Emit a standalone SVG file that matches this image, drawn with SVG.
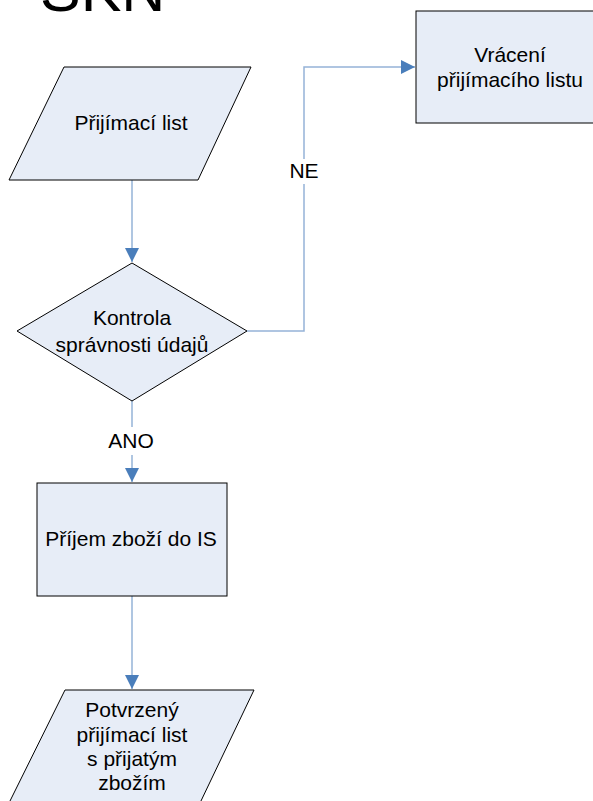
<svg xmlns="http://www.w3.org/2000/svg" width="593" height="801" viewBox="0 0 593 801">
  <style>
    .shape { fill: #e7edf7; stroke: #000000; stroke-width: 1; }
    .label { font-family: "Liberation Sans", Arial, sans-serif; font-size: 21px; fill: #000000; text-anchor: middle; }
    .title { font-family: "Liberation Sans", Arial, sans-serif; font-size: 61px; fill: #000000; }
    .flow { fill: none; stroke: #95b3d7; stroke-width: 1.5; }
    .tag { fill: #ffffff; }
  </style>
  <defs>
    <marker id="arrow" markerWidth="14" markerHeight="14" refX="14" refY="7" orient="auto" markerUnits="userSpaceOnUse">
      <path d="M0,0 L14,7 L0,14 Z" fill="#4a7ebb"/>
    </marker>
  </defs>

  <rect width="593" height="801" fill="#ffffff"/>

  <!-- heading, mostly above the top edge -->
  <text class="title" x="40" y="11">SKN</text>

  <!-- connectors -->
  <g id="connectors">
    <path class="flow" d="M132,180 L132,262" marker-end="url(#arrow)"/>
    <path class="flow" d="M247,331 L304,331 L304,67 L415,67" marker-end="url(#arrow)"/>
    <path class="flow" d="M132,401 L132,482" marker-end="url(#arrow)"/>
    <path class="flow" d="M132,596 L132,689" marker-end="url(#arrow)"/>
    <rect class="tag" x="287" y="159" width="34" height="25"/>
    <text class="label" x="304" y="178">NE</text>
    <rect class="tag" x="105" y="427" width="54" height="28"/>
    <text class="label" x="131" y="448">ANO</text>
  </g>

  <g id="prijimaci-list">
    <polygon class="shape" points="64,67 251,67 198,180 9,180"/>
    <text class="label" x="131" y="130">Přijímací list</text>
  </g>

  <g id="vraceni">
    <rect class="shape" x="416" y="11" width="190" height="112"/>
    <text class="label" x="510" y="62">Vrácení</text>
    <text class="label" x="510" y="87">přijímacího listu</text>
  </g>

  <g id="kontrola">
    <polygon class="shape" points="132,263 247,331 132,401 17,331"/>
    <text class="label" x="132" y="325">Kontrola</text>
    <text class="label" x="132" y="352">správnosti údajů</text>
  </g>

  <g id="prijem">
    <rect class="shape" x="37" y="483" width="190" height="113"/>
    <text class="label" x="131" y="546">Příjem zboží do IS</text>
  </g>

  <g id="potvrzeny">
    <polygon class="shape" points="65,690 254,690 200,803 9,803"/>
    <text class="label" x="132" y="717">Potvrzený</text>
    <text class="label" x="132" y="742">přijímací list</text>
    <text class="label" x="132" y="766">s přijatým</text>
    <text class="label" x="132" y="790">zbožím</text>
  </g>
</svg>
